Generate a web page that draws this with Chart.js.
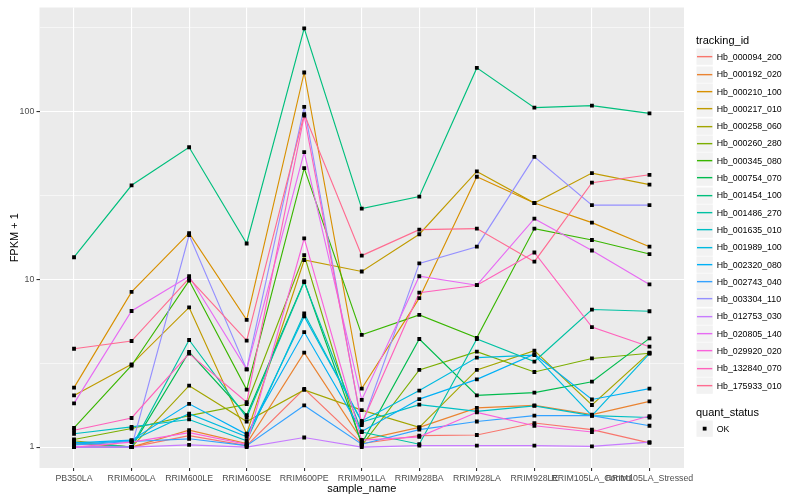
<!DOCTYPE html>
<html>
<head>
<meta charset="utf-8">
<script src="https://cdn.jsdelivr.net/npm/chart.js@4.4.0/dist/chart.umd.min.js"></script>
<style>
    html, body { margin: 0; padding: 0; background: #fff; }
    #wrap { position: relative; width: 800px; height: 500px; font-family: "Liberation Sans", Arial, sans-serif; }
    #chart { position: absolute; left: 0; top: 0; }
    .legend { position: absolute; left: 696px; color: #000; }
    .legend-title { font-size: 11px; line-height: 13px; height: 13px; white-space: nowrap; }
    .legend-row { display: flex; align-items: center; height: 17.3px; }
    .key { display: block; flex: none; }
    .legend-label { font-size: 8.8px; margin-left: 3.4px; white-space: nowrap; }
</style>
</head>
<body>
<div id="wrap">
    <canvas id="chart" width="800" height="500"></canvas>
    <div class="legend" id="legend_ids" style="top:34.2px"></div>
    <div class="legend" id="legend_status" style="top:405.8px"></div>
</div>
<script>
"use strict";

// Samples (x categories)
var samples = ['PB350LA', 'RRIM600LA', 'RRIM600LE', 'RRIM600SE', 'RRIM600PE', 'RRIM901LA',
    'RRIM928BA', 'RRIM928LA', 'RRIM928LE', 'RRIM105LA_Control', 'RRIM105LA_Stressed'];

var trackingIds = ['Hb_000094_200', 'Hb_000192_020', 'Hb_000210_100', 'Hb_000217_010', 'Hb_000258_060',
    'Hb_000260_280', 'Hb_000345_080', 'Hb_000754_070', 'Hb_001454_100', 'Hb_001486_270',
    'Hb_001635_010', 'Hb_001989_100', 'Hb_002320_080', 'Hb_002743_040', 'Hb_003304_110',
    'Hb_012753_030', 'Hb_020805_140', 'Hb_029920_020', 'Hb_132840_070', 'Hb_175933_010'];

var statusLevels = ['OK'];

// FPKM + 1 per sample, one list per gene
var hb_000094_200 = [1.0, 1.0, 1.17, 1.02, 2.22, 1.05, 1.17, 1.18, 1.39, 1.27, 1.06];
var hb_000192_020 = [1.05, 1.0, 1.26, 1.05, 3.65, 1.1, 1.31, 1.71, 1.77, 1.56, 1.87];
var hb_000210_100 = [2.26, 8.4, 18.8, 5.72, 170, 2.23, 7.7, 40.7, 28.4, 21.7, 15.6];
var hb_000217_010 = [2.03, 3.11, 6.78, 1.2, 13.0, 11.1, 18.5, 43.8, 28.4, 42.8, 36.5];
var hb_000258_060 = [1.09, 1.0, 2.32, 1.42, 2.19, 1.66, 1.31, 2.88, 3.75, 1.78, 3.65];
var hb_000260_280 = [1.11, 1.29, 1.54, 1.8, 13.9, 1.02, 2.88, 3.7, 2.8, 3.37, 3.62];
var hb_000345_080 = [1.30, 3.06, 9.8, 2.2, 45.8, 4.66, 6.12, 4.47, 20, 17.1, 14.1];
var hb_000754_070 = [1.0, 1.0, 3.68, 1.55, 9.7, 1.05, 4.4, 2.03, 2.11, 2.45, 4.44];
var hb_001454_100 = [13.5, 36.2, 61, 16.3, 311, 26.3, 31, 181, 105, 108, 97];
var hb_001486_270 = [1.07, 1.0, 4.34, 1.5, 9.6, 1.23, 1.04, 4.4, 3.23, 6.59, 6.44];
var hb_001635_010 = [1.2, 1.32, 1.46, 1.09, 6.24, 1.41, 1.79, 1.63, 1.76, 1.54, 1.5];
var hb_001989_100 = [1.04, 1.09, 1.58, 1.15, 6.0, 1.43, 2.17, 3.41, 3.53, 1.54, 3.6];
var hb_002320_080 = [1.06, 1.1, 1.81, 1.19, 4.84, 1.24, 1.93, 2.53, 3.57, 1.92, 2.23];
var hb_002743_040 = [1.03, 1.08, 1.12, 1.02, 1.77, 1.04, 1.27, 1.42, 1.54, 1.54, 1.34];
var hb_003304_110 = [1.0, 1.0, 18.3, 2.9, 106, 1.35, 12.4, 15.6, 53.4, 27.6, 27.6];
var hb_012753_030 = [1.0, 1.0, 1.03, 1.0, 1.14, 1.0, 1.02, 1.02, 1.02, 1.01, 1.07];
var hb_020805_140 = [1.82, 6.46, 10.4, 2.9, 57, 1.91, 10.4, 9.2, 22.9, 14.8, 9.3];
var hb_029920_020 = [1.0, 1.07, 1.22, 1.04, 17.5, 1.1, 1.15, 1.61, 1.34, 1.23, 1.53];
var hb_132840_070 = [1.26, 1.49, 3.6, 1.85, 94, 1.38, 8.3, 9.2, 14.4, 5.18, 3.96];
var hb_175933_010 = [3.85, 4.28, 10.1, 4.3, 96, 13.8, 19.7, 20, 12.7, 37.5, 41.8];

var seriesValues = [hb_000094_200, hb_000192_020, hb_000210_100, hb_000217_010, hb_000258_060,
    hb_000260_280, hb_000345_080, hb_000754_070, hb_001454_100, hb_001486_270,
    hb_001635_010, hb_001989_100, hb_002320_080, hb_002743_040, hb_003304_110,
    hb_012753_030, hb_020805_140, hb_029920_020, hb_132840_070, hb_175933_010];

// ggplot default hue palette for 20 groups
var seriesColors = ['#F8766D', '#EA8331', '#D89000', '#C09B00', '#A3A500', '#7CAE00', '#39B600',
    '#00BB4E', '#00BF7D', '#00C1A3', '#00BFC4', '#00BAE0', '#00B0F6', '#35A2FF', '#9590FF',
    '#C77CFF', '#E76BF3', '#FA62DB', '#FF62BC', '#FF6C91'];

var fontFamily = '"Liberation Sans", Arial, sans-serif';

// y range: log10 with 5% expansion, like ggplot
var allVals = [].concat.apply([], seriesValues);
var lmin = Math.log10(Math.min.apply(null, allVals));
var lmax = Math.log10(Math.max.apply(null, allVals));
var expand = (lmax - lmin) * 0.05;
var yMin = Math.pow(10, lmin - expand);
var yMax = Math.pow(10, lmax + expand);

var isMajor = function (v) {
    var l = Math.log10(v);
    return Math.abs(l - Math.round(l)) < 1e-9;
};

// grey panel behind the grid
var panelBg = {
    id: 'panelBg',
    beforeDraw: function (chart) {
        var a = chart.chartArea;
        var ctx = chart.ctx;
        ctx.save();
        ctx.fillStyle = '#ebebeb';
        ctx.fillRect(a.left, a.top, a.right - a.left, a.bottom - a.top);
        ctx.restore();
    }
};

var datasets = trackingIds.map(function (id, i) {
    return {
        label: id,
        data: seriesValues[i].map(function (v, j) { return { x: j, y: v }; }),
        borderColor: seriesColors[i],
        backgroundColor: seriesColors[i],
        borderWidth: 1.15,
        pointRadius: 0,
        tension: 0,
        fill: false,
        order: 100 - i
    };
});

// points layer (quant_status = OK) on top of all lines
datasets.push({
    label: statusLevels[0],
    data: [].concat.apply([], seriesValues.map(function (vals) {
        return vals.map(function (v, j) { return { x: j, y: v }; });
    })),
    showLine: false,
    pointStyle: 'rect',
    pointRadius: 2.7,
    pointBackgroundColor: '#000',
    pointBorderWidth: 0,
    order: 0
});

Chart.defaults.font.family = fontFamily;

new Chart(document.getElementById('chart').getContext('2d'), {
    type: 'line',
    data: { datasets: datasets },
    plugins: [panelBg],
    options: {
        responsive: false,
        animation: false,
        events: [],
        layout: { padding: { left: 0, right: 116, top: 5.5, bottom: 0 } },
        plugins: {
            legend: { display: false },
            tooltip: { enabled: false }
        },
        scales: {
            x: {
                type: 'linear',
                min: -0.6,
                max: samples.length - 1 + 0.6,
                afterBuildTicks: function (scale) {
                    scale.ticks = samples.map(function (s, i) { return { value: i }; });
                },
                afterFit: function (scale) { scale.height = 32; },
                border: { display: false },
                grid: {
                    color: '#ffffff',
                    lineWidth: 1.1,
                    tickColor: '#333333',
                    tickWidth: 1.1,
                    tickLength: 3
                },
                ticks: {
                    autoSkip: false,
                    maxRotation: 0,
                    minRotation: 0,
                    padding: 2,
                    color: '#4d4d4d',
                    font: { size: 8.8 },
                    callback: function (v) { return samples[v]; }
                },
                title: {
                    display: true,
                    text: 'sample_name',
                    color: '#000',
                    font: { size: 11 },
                    padding: { top: 0, bottom: 4 }
                }
            },
            y: {
                type: 'logarithmic',
                min: yMin,
                max: yMax,
                afterBuildTicks: function (scale) {
                    var t = [];
                    for (var e = Math.floor(lmin - expand) * 2; e <= Math.ceil(lmax + expand) * 2; e++) {
                        var v = Math.pow(10, e / 2);
                        if (v >= yMin && v <= yMax) t.push({ value: v });
                    }
                    scale.ticks = t;
                },
                afterFit: function (scale) { scale.width = 39.5; },
                border: { display: false },
                grid: {
                    color: '#ffffff',
                    lineWidth: function (c) { return isMajor(c.tick.value) ? 1.1 : 0.55; },
                    tickColor: function (c) { return isMajor(c.tick.value) ? '#333333' : 'rgba(0,0,0,0)'; },
                    tickWidth: 1.1,
                    tickLength: 3
                },
                ticks: {
                    autoSkip: false,
                    padding: 2.2,
                    color: '#4d4d4d',
                    font: { size: 8.8 },
                    callback: function (v) { return isMajor(v) ? String(Math.round(v)) : ''; }
                },
                title: {
                    display: true,
                    text: 'FPKM + 1',
                    color: '#000',
                    font: { size: 11 },
                    padding: { top: 8, bottom: 0 }
                }
            }
        }
    }
});

// Legends (ggplot style, two guides); keys drawn as small svgs
var keyBox = function (inner) {
    return '<svg class="key" width="17.3" height="17.3" viewBox="0 0 17.3 17.3">' +
        '<rect x="0" y="0" width="17.3" height="17.3" fill="#f2f2f2" stroke="#ffffff" stroke-width="1"/>' +
        inner + '</svg>';
};

var buildLegend = function (el, title, labels, makeKey) {
    var html = '<div class="legend-title">' + title + '</div><div style="height:1.15px"></div>';
    labels.forEach(function (lab, i) {
        html += '<div class="legend-row">' + keyBox(makeKey(i)) +
            '<span class="legend-label">' + lab + '</span></div>';
    });
    el.innerHTML = html;
};

buildLegend(document.getElementById('legend_ids'), 'tracking_id', trackingIds, function (i) {
    return '<line x1="1" y1="8.65" x2="16.3" y2="8.65" stroke="' + seriesColors[i] + '" stroke-width="1.4"/>';
});
buildLegend(document.getElementById('legend_status'), 'quant_status', statusLevels, function () {
    return '<rect x="6.75" y="6.75" width="3.8" height="3.8" fill="#000"/>';
});
</script>
</body>
</html>
